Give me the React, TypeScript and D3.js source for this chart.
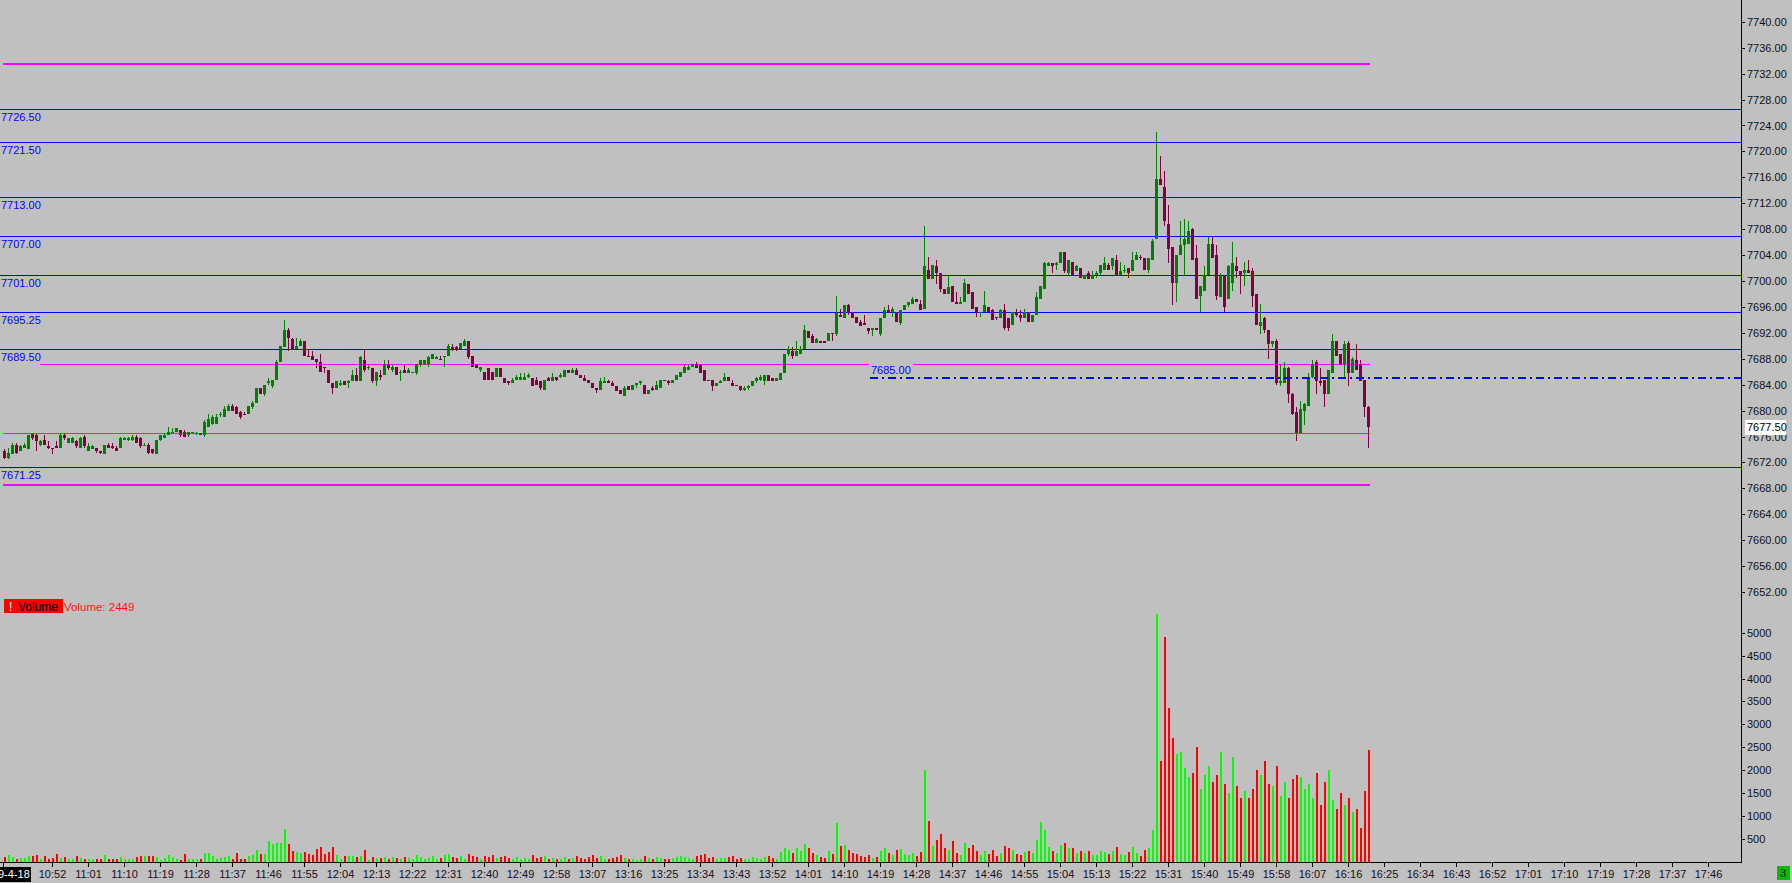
import React from 'react';
import * as d3 from 'd3';

// one-minute bars from 10:40, [open, high, low, close]
const candles: [number, number, number, number][] = [
  [7673.75, 7674, 7672.5, 7672.75], [7672.75, 7674.25, 7672.5, 7673.5], [7673.25, 7675, 7673.25, 7674.75], [7674.75, 7675, 7673.25, 7673.5], [7673.75, 7674.75, 7673.75, 7674.5],
  [7674.25, 7675, 7674.25, 7674.75], [7674, 7676.25, 7674, 7676.25], [7676.5, 7676.5, 7675.5, 7675.75], [7676.25, 7676.5, 7673.75, 7675.25], [7674.75, 7675.5, 7674.5, 7675.25],
  [7675.5, 7676.25, 7674.75, 7674.75], [7674.5, 7675.25, 7674, 7674.25], [7674.25, 7674.25, 7673.25, 7674], [7674.5, 7675.25, 7674.25, 7674.25], [7674.25, 7676.5, 7674.25, 7676.25],
  [7676.25, 7676.5, 7675.5, 7675.75], [7675, 7675.75, 7675, 7675.75], [7675, 7676, 7675, 7675.75], [7675.25, 7675.5, 7674.25, 7674.5], [7674.25, 7676, 7674.25, 7675.75],
  [7676, 7676.25, 7674.25, 7674.5], [7673.75, 7675, 7673.75, 7674.5], [7674, 7674.75, 7674, 7674.5], [7674.25, 7674.25, 7673.5, 7673.75], [7673.75, 7673.75, 7673.25, 7673.5],
  [7673.25, 7674.75, 7673.25, 7674.75], [7674.75, 7675, 7674.25, 7674.25], [7674.5, 7675, 7674, 7674.25], [7674.25, 7674.5, 7673.75, 7673.75], [7674.25, 7676, 7674.25, 7675.75],
  [7675.5, 7676, 7675.5, 7675.75], [7675.5, 7676, 7675.25, 7675.75], [7675.5, 7676.25, 7675.25, 7676], [7676, 7676.25, 7675, 7675], [7675.75, 7676, 7674.25, 7674.5],
  [7674.5, 7675, 7674.5, 7674.75], [7674.75, 7675, 7673.25, 7673.5], [7674, 7674, 7673.25, 7673.5], [7673.25, 7675.5, 7673.25, 7675.5], [7675.5, 7676.25, 7675.25, 7676.25],
  [7675.75, 7676.5, 7675.75, 7676.25], [7676.25, 7677.5, 7676.25, 7676.75], [7676.5, 7677.25, 7676.5, 7676.75], [7676.75, 7677.25, 7676.75, 7677.25], [7677, 7677, 7676, 7676.25],
  [7676.75, 7677, 7676, 7676], [7676.25, 7676.75, 7676, 7676.75], [7676.5, 7676.75, 7676.5, 7676.75], [7676.5, 7676.75, 7676.25, 7676.5], [7676.5, 7676.5, 7676.25, 7676.25],
  [7676.25, 7678.5, 7676, 7678.25], [7677.5, 7679.5, 7677.5, 7678.75], [7678, 7679.25, 7677.75, 7679], [7678, 7679.5, 7678, 7679], [7679.25, 7679.75, 7679, 7679.5],
  [7679, 7680.75, 7679, 7680.25], [7680, 7681, 7680, 7680.75], [7680.75, 7681, 7680, 7680], [7680.5, 7680.75, 7679.5, 7679.5], [7679.75, 7680, 7678.75, 7679],
  [7679.5, 7679.75, 7679.25, 7679.25], [7679.5, 7680.75, 7679.5, 7680.75], [7680.5, 7681.5, 7680.25, 7681.25], [7681.25, 7683.5, 7681.25, 7683.5], [7683.5, 7683.5, 7682.5, 7682.5],
  [7682.5, 7684, 7682.25, 7684], [7684.25, 7685, 7684, 7684.5], [7683.75, 7684.75, 7683.5, 7684.75], [7684.75, 7687.75, 7684.75, 7687.5], [7687.5, 7690, 7687.5, 7690],
  [7689.75, 7694, 7689.75, 7692.5], [7692.5, 7692.75, 7689.25, 7691.25], [7691, 7691.25, 7689.5, 7689.5], [7689.5, 7691.25, 7689.5, 7690], [7690, 7691, 7690, 7690.75],
  [7690.75, 7690.75, 7688.5, 7688.5], [7688.5, 7689.5, 7688.25, 7688.25], [7688.5, 7689.25, 7687.75, 7687.75], [7688, 7688, 7686.5, 7687.5], [7687.5, 7688.75, 7686, 7686],
  [7686.75, 7686.75, 7685.75, 7686.5], [7686.25, 7686.25, 7684.25, 7684.25], [7684.25, 7684.25, 7682.5, 7683.5], [7683.5, 7684.5, 7683.5, 7684.5], [7684, 7684.75, 7683.75, 7684.25],
  [7684.5, 7684.5, 7684, 7684], [7684.25, 7684.75, 7683.5, 7684.5], [7684.5, 7686.25, 7684.5, 7685.5], [7685.5, 7686.5, 7684.5, 7684.5], [7684.5, 7688.5, 7684.5, 7688.25],
  [7687.75, 7689.5, 7686, 7686.25], [7686.5, 7687, 7686.25, 7686.75], [7686.5, 7686.5, 7684.25, 7684.5], [7684.5, 7686, 7683.75, 7686], [7685.5, 7686.25, 7684.75, 7685.25],
  [7685.5, 7687.75, 7685.5, 7687.25], [7687.25, 7687.75, 7686.25, 7686.5], [7686.25, 7687, 7686, 7686.75], [7686.75, 7686.75, 7685.5, 7685.5], [7685.75, 7686.25, 7684.5, 7686],
  [7686.25, 7687, 7685.75, 7685.75], [7685.75, 7686.5, 7685.75, 7686.25], [7685.75, 7686, 7685.75, 7686], [7685.75, 7687.25, 7685.5, 7687.25], [7687, 7687.75, 7686.75, 7687.75],
  [7687.25, 7687.75, 7687, 7687.75], [7687.25, 7688.5, 7686.75, 7688.25], [7688, 7688.75, 7688, 7688.75], [7688, 7688.5, 7688, 7688.25], [7688, 7688.5, 7687.75, 7687.75],
  [7688.25, 7688.5, 7686.75, 7688.5], [7688.5, 7690.25, 7688.5, 7690], [7689.75, 7690.25, 7689.25, 7689.5], [7689.75, 7690, 7689.25, 7689.5], [7689.5, 7690.5, 7689.5, 7690.5],
  [7690, 7691, 7690, 7690.75], [7690.75, 7690.75, 7688, 7688.25], [7688.5, 7688.5, 7686.75, 7686.75], [7687.25, 7687.25, 7686.5, 7686.5], [7686.25, 7686.75, 7686, 7686.75],
  [7686, 7686, 7684.75, 7684.75], [7686.5, 7686.5, 7684.75, 7684.75], [7686, 7686, 7684.75, 7684.75], [7685.25, 7686.5, 7685.25, 7686.5], [7686.5, 7686.5, 7685.25, 7685.25],
  [7685, 7685, 7684.25, 7684.25], [7684.5, 7684.5, 7684, 7684.25], [7684.25, 7685, 7684.25, 7684.75], [7684.75, 7685.5, 7684.75, 7685.25], [7684.75, 7685.75, 7684.75, 7685.25],
  [7684.75, 7685.75, 7684.75, 7685.25], [7685.25, 7685.75, 7685, 7685.5], [7685, 7685, 7683.75, 7683.75], [7684.75, 7685.25, 7684, 7684], [7684.5, 7684.5, 7683.25, 7683.5],
  [7683.25, 7684.75, 7683.25, 7684.75], [7685, 7685.25, 7684.5, 7684.5], [7684.5, 7685.75, 7684.5, 7685.25], [7685.25, 7685.25, 7684.5, 7684.75], [7685.25, 7685.75, 7685, 7685.5],
  [7685.25, 7686.25, 7685.25, 7686.25], [7686.25, 7686.25, 7685.75, 7685.75], [7685.75, 7686.5, 7685.75, 7686.25], [7686.25, 7686.5, 7685.5, 7685.5], [7685.5, 7685.5, 7685, 7685],
  [7685, 7685.5, 7684.5, 7684.5], [7684.75, 7684.75, 7684.25, 7684.25], [7684.25, 7684.25, 7683.5, 7683.5], [7683.5, 7683.5, 7682.75, 7683.25], [7683.25, 7685, 7683.25, 7684.5],
  [7684.25, 7685.25, 7684.25, 7684.5], [7684.5, 7684.75, 7684.25, 7684.25], [7684.25, 7684.5, 7683.75, 7683.75], [7683.75, 7683.75, 7683, 7683], [7683.25, 7683.25, 7682.5, 7682.5],
  [7682.25, 7683.75, 7682.25, 7683.5], [7683.75, 7683.75, 7683.25, 7683.25], [7683.25, 7684, 7683.25, 7684], [7684, 7684.25, 7683.5, 7684.25], [7684.25, 7684.5, 7684, 7684.5],
  [7684, 7684, 7682.5, 7682.5], [7682.5, 7683.25, 7682.5, 7683.25], [7683.5, 7683.75, 7683, 7683.25], [7683.25, 7684.5, 7683.25, 7684], [7683.5, 7684.75, 7683.5, 7684.75],
  [7684.75, 7684.75, 7684.5, 7684.5], [7684.5, 7684.75, 7684, 7684.25], [7684.25, 7684.75, 7684.25, 7684.75], [7684.75, 7685.5, 7684.75, 7685.5], [7685.25, 7686, 7685.25, 7686],
  [7685.75, 7687, 7685.75, 7686.75], [7686.25, 7687, 7686.25, 7686.75], [7686.75, 7687.25, 7686.75, 7687.25], [7687.25, 7687.5, 7686.5, 7686.5], [7687, 7687.25, 7685.75, 7685.75],
  [7686.25, 7686.25, 7684.5, 7684.5], [7684.75, 7684.75, 7684.5, 7684.5], [7684.75, 7684.75, 7683, 7683.75], [7683.75, 7684.25, 7683.75, 7684.25], [7684.25, 7684.75, 7684.25, 7684.5],
  [7684.5, 7685.75, 7684.5, 7685.25], [7685.25, 7685.25, 7684.5, 7684.5], [7684.25, 7684.75, 7683.75, 7683.75], [7684, 7684, 7683.75, 7683.75], [7683.75, 7683.75, 7683, 7683.25],
  [7683.25, 7683.75, 7683, 7683.5], [7683.5, 7684, 7683.25, 7683.75], [7683.75, 7684.5, 7683.75, 7684.5], [7684.5, 7685.25, 7684.25, 7685], [7684.75, 7685.5, 7684.5, 7685.25],
  [7684.5, 7685.5, 7684, 7685.5], [7685.5, 7685.5, 7684.5, 7684.5], [7685, 7685, 7684.5, 7684.5], [7684.5, 7685, 7684.5, 7685], [7684.75, 7685.75, 7684.75, 7685.75],
  [7685.75, 7688.75, 7685.75, 7688.75], [7688.75, 7690, 7688.5, 7689.5], [7689.25, 7689.75, 7688, 7688.5], [7688.5, 7690.75, 7688.5, 7689.25], [7688.75, 7690, 7688.75, 7689.5],
  [7689.5, 7693.25, 7689.5, 7692.5], [7692.25, 7692.25, 7691.25, 7691.25], [7691.5, 7691.75, 7690.5, 7690.5], [7690.5, 7691.25, 7690.5, 7691], [7690.75, 7690.75, 7690.5, 7690.5],
  [7690.75, 7690.75, 7690.5, 7690.5], [7690.75, 7692, 7690.75, 7692], [7692, 7692, 7690.75, 7691.75], [7691.75, 7697.75, 7691.5, 7695], [7694.75, 7695.75, 7694.5, 7694.5],
  [7694.25, 7696.25, 7694.25, 7696.25], [7696.25, 7696.5, 7694.75, 7695], [7695.25, 7695.25, 7694.25, 7694.25], [7694.5, 7694.5, 7693.5, 7693.5], [7693.75, 7694, 7693, 7693],
  [7693.5, 7694.75, 7693.25, 7693.25], [7692.75, 7692.75, 7691.75, 7692.25], [7692.5, 7692.75, 7691.5, 7692.75], [7692.75, 7692.75, 7692.5, 7692.5], [7691.75, 7694.25, 7691.5, 7694.25],
  [7694.25, 7696, 7694.25, 7695.5], [7695.5, 7696.25, 7695, 7695.25], [7695.25, 7696, 7694.5, 7695.75], [7695.25, 7695.25, 7693.75, 7693.75], [7693.5, 7695.5, 7693.25, 7695.5],
  [7695.5, 7696.25, 7695.5, 7696.25], [7696.25, 7696.75, 7696, 7696.75], [7696.5, 7697.5, 7696.5, 7697.25], [7697.25, 7697.25, 7696.75, 7696.75], [7696.5, 7697, 7695.5, 7695.5],
  [7695.75, 7708.5, 7695.75, 7702.25], [7701.75, 7703.75, 7700.25, 7700.25], [7700.25, 7702.5, 7700.25, 7702.5], [7702.25, 7703.25, 7699.5, 7701.25], [7701.25, 7701.25, 7698.25, 7698.75],
  [7698.75, 7698.75, 7698, 7698], [7698, 7700.75, 7698, 7699], [7699.25, 7699.25, 7696.75, 7696.75], [7696.75, 7698.25, 7696.5, 7696.5], [7696.5, 7697.5, 7696.5, 7696.75],
  [7696.75, 7700.25, 7696.75, 7699.75], [7699.5, 7699.5, 7698, 7698], [7698.25, 7698.25, 7695.75, 7695.75], [7696, 7696, 7694.5, 7695], [7695, 7695.25, 7694.5, 7695.25],
  [7695.25, 7698.5, 7695.25, 7696.25], [7696, 7696, 7695.25, 7695.25], [7695.5, 7695.75, 7694, 7694], [7694.5, 7694.5, 7694, 7694.25], [7694.25, 7695.75, 7694.25, 7695.5],
  [7695.5, 7696.5, 7692.5, 7692.75], [7694.25, 7694.25, 7692.25, 7692.75], [7693.25, 7695.25, 7693.25, 7695.25], [7695, 7695.75, 7694.5, 7694.75], [7694.75, 7695.5, 7693.75, 7694.25],
  [7694.25, 7695.75, 7694.25, 7695.25], [7695.25, 7695.25, 7693.75, 7693.75], [7693.75, 7694.75, 7693.75, 7694.75], [7694.75, 7698.25, 7694.75, 7697.5], [7697.25, 7699.25, 7697.25, 7699.25],
  [7698.75, 7703, 7698.75, 7702.75], [7702.25, 7703, 7702.25, 7702.75], [7702.75, 7702.75, 7701.25, 7702.25], [7702.5, 7703, 7701.75, 7702.75], [7702.75, 7704.5, 7702.75, 7704.5],
  [7704.5, 7704.5, 7701.25, 7701.5], [7701.25, 7703.25, 7701, 7703.25], [7703, 7703, 7701, 7701], [7701.5, 7702.5, 7701.5, 7702.25], [7702, 7702, 7700.5, 7700.5],
  [7700.25, 7701, 7700.25, 7701], [7701.25, 7701.5, 7700.25, 7700.25], [7700.25, 7701.5, 7700.25, 7701], [7701, 7701.5, 7700.5, 7701.25], [7701.25, 7702.5, 7701, 7702.5],
  [7701.75, 7703.75, 7701.75, 7702.75], [7702.5, 7702.75, 7701.75, 7701.75], [7702.25, 7703.5, 7701.75, 7703.5], [7703.25, 7704, 7701, 7701], [7701, 7703, 7701, 7701.5],
  [7701.5, 7702.5, 7701.25, 7701.75], [7702, 7702, 7700.5, 7701.25], [7701.5, 7704.5, 7701.5, 7703.25], [7703.25, 7704.5, 7703.25, 7704], [7703.75, 7704, 7703.25, 7703.5],
  [7703.5, 7703.5, 7701.75, 7701.75], [7701.75, 7703.5, 7701.25, 7703.5], [7703.25, 7706.5, 7703.25, 7706.25], [7706.5, 7723, 7706.5, 7715.75], [7715.75, 7719.25, 7714.75, 7714.75],
  [7714.5, 7717, 7708.5, 7709.25], [7708.75, 7711.75, 7702.75, 7705], [7705.25, 7705.25, 7696.25, 7699.75], [7699.75, 7704, 7696.75, 7704], [7704, 7709.25, 7704, 7705.5],
  [7705.5, 7709.5, 7700.75, 7706.5], [7705.75, 7709.25, 7705.75, 7707.75], [7708, 7708.25, 7703.25, 7703.25], [7703.5, 7705.5, 7697.25, 7697.25], [7697.75, 7699.25, 7695.25, 7699.25],
  [7698.5, 7702.25, 7698.5, 7701], [7701, 7706.75, 7701, 7705.75], [7705.75, 7706.75, 7703.5, 7703.5], [7704, 7705.5, 7697, 7697.75], [7697.5, 7701.25, 7697.5, 7700.75],
  [7700.75, 7700.75, 7695.25, 7696], [7697.25, 7702.5, 7697.25, 7702.25], [7699.75, 7706, 7698.5, 7702.75], [7702.25, 7703.75, 7700.5, 7701.5], [7701.5, 7701.5, 7698, 7701],
  [7701.25, 7703, 7699.25, 7701.75], [7701.75, 7703.25, 7701.25, 7701.25], [7701.5, 7702, 7696, 7697.75], [7698, 7698, 7693.25, 7693.25], [7693, 7696.5, 7691.75, 7693.75],
  [7694.25, 7694.5, 7692, 7692.5], [7692.5, 7692.5, 7688, 7690.25], [7690.25, 7690.75, 7689.75, 7690.75], [7690.75, 7691, 7684, 7684.25], [7684.25, 7687, 7683.75, 7684.5],
  [7684.25, 7687.5, 7684.25, 7686.5], [7686.5, 7686.75, 7681.25, 7682.5], [7682.5, 7682.75, 7679.25, 7679.5], [7679.75, 7680.5, 7675.25, 7676.5], [7676.5, 7681.5, 7676.5, 7680.25],
  [7680, 7681.25, 7677.75, 7681], [7680.75, 7685.75, 7680.75, 7685.25], [7685.25, 7687.75, 7685, 7687.25], [7687.5, 7687.75, 7682.5, 7684.5], [7684.5, 7686.5, 7683.75, 7684.25],
  [7684.75, 7684.75, 7680.5, 7682.5], [7682.5, 7686.25, 7682.5, 7686.25], [7685.75, 7691.75, 7685.75, 7690.75], [7690.75, 7690.75, 7688.5, 7688.5], [7688.75, 7688.75, 7687, 7687],
  [7687.25, 7690.75, 7685, 7690.25], [7690.5, 7690.75, 7683.75, 7685.75], [7685.75, 7688.25, 7685.75, 7688], [7687.75, 7690.25, 7686.25, 7686.25], [7687.25, 7687.75, 7684.5, 7684.5],
  [7684.75, 7684.75, 7679, 7680.5], [7680.5, 7680.75, 7674.25, 7677.5],
];

const volumes = [
  110, 145, 110, 75, 90, 90, 125, 125, 145, 75,
  125, 75, 90, 165, 90, 110, 75, 75, 125, 90,
  75, 75, 75, 75, 75, 145, 75, 75, 75, 110,
  60, 75, 75, 110, 125, 125, 125, 125, 110, 50,
  90, 145, 110, 75, 50, 165, 75, 60, 75, 60,
  205, 190, 125, 75, 95, 110, 125, 75, 205, 60,
  75, 125, 145, 255, 165, 180, 450, 385, 415, 420,
  730, 400, 235, 220, 205, 220, 180, 145, 290, 325,
  180, 220, 325, 145, 75, 125, 125, 125, 110, 125,
  270, 50, 110, 90, 90, 110, 75, 110, 90, 75,
  110, 90, 60, 145, 110, 75, 90, 125, 75, 90,
  145, 180, 110, 90, 125, 75, 165, 130, 110, 60,
  125, 110, 145, 90, 110, 125, 90, 60, 110, 75,
  90, 60, 145, 90, 110, 125, 75, 90, 60, 75,
  110, 75, 90, 125, 90, 75, 110, 145, 90, 125,
  75, 60, 90, 110, 145, 90, 60, 75, 50, 60,
  125, 90, 75, 110, 90, 60, 75, 90, 110, 125,
  110, 90, 75, 125, 145, 165, 90, 110, 75, 90,
  90, 110, 125, 75, 90, 60, 75, 110, 90, 75,
  110, 125, 90, 75, 220, 300, 260, 200, 310, 230,
  400, 300, 200, 160, 110, 90, 250, 180, 850, 350,
  380, 260, 200, 180, 140, 110, 160, 90, 110, 250,
  300, 200, 150, 260, 280, 180, 160, 200, 140, 210,
  2000, 900, 350, 480, 620, 300, 260, 450, 200, 160,
  420, 300, 380, 250, 160, 230, 180, 270, 140, 200,
  350, 300, 260, 180, 150, 220, 250, 200, 480, 880,
  700, 320, 230, 200, 380, 420, 300, 310, 200, 240,
  200, 230, 160, 150, 230, 210, 180, 240, 320, 180,
  150, 210, 330, 200, 140, 260, 300, 700, 5400, 2200,
  4900, 3350, 2700, 2350, 2400, 2050, 1850, 1950, 2500, 1600,
  1900, 2100, 1750, 1900, 2400, 1700, 1500, 2300, 1650, 1400,
  1550, 1400, 1600, 2000, 1900, 2200, 1700, 1650, 2100, 1450,
  1750, 1400, 1800, 1900, 1850, 1600, 1700, 1400, 1950, 1250,
  1750, 2000, 1350, 1150, 1500, 1250, 1400, 1100, 1150, 750,
  1550, 2449,
];

const timeLabels = [
  '10:52', '11:01', '11:10', '11:19', '11:28', '11:37', '11:46', '11:55', '12:04', '12:13',
  '12:22', '12:31', '12:40', '12:49', '12:58', '13:07', '13:16', '13:25', '13:34', '13:43',
  '13:52', '14:01', '14:10', '14:19', '14:28', '14:37', '14:46', '14:55', '15:04', '15:13',
  '15:22', '15:31', '15:40', '15:49', '15:58', '16:07', '16:16', '16:25', '16:34', '16:43',
  '16:52', '17:01', '17:10', '17:19', '17:28', '17:37', '17:46',
];

const priceTicks = [
  7740, 7736, 7732, 7728, 7724, 7720, 7716, 7712, 7708, 7704, 7700, 7696,
  7692, 7688, 7684, 7680, 7676, 7672, 7668, 7664, 7660, 7656, 7652,
];
const volumeTicks = [500, 1000, 1500, 2000, 2500, 3000, 3500, 4000, 4500, 5000];

const blueLevels = [7726.5, 7721.5, 7713, 7707, 7701, 7695.25, 7689.5, 7671.25];
const magentaLevels = [7733.5, 7687.25, 7676.5, 7668.5];
const magentaWidths = [2, 1, 1, 2];
const dashLevel = 7685;
const lastPrice = 7677.5;
const lastVolume = 2449;

const W = 1792;
const H = 883;
const AXIS_X = 1741;
const AXIS_Y = 862;
const FONT = '"Liberation Sans", Arial, sans-serif';

const UP = '#008000';
const DOWN = '#800040';

export default function App() {
  const x = d3.scaleLinear().domain([0, 434]).range([4, 1740]);
  const y = d3.scaleLinear().domain([7652, 7740]).range([592.06, 21.82]);
  const yv = d3.scaleLinear().domain([0, 5000]).range([AXIS_Y, 632.7]);

  const minuteOf = (t: string) => {
    const [h, m] = t.split(':').map(Number);
    return h * 60 + m - 640;
  };
  const lastX = Math.round(x(candles.length - 1)) + 2;
  const py = (p: number) => Math.round(y(p)) + 0.5;

  return (
    <svg width={W} height={H} style={{ position: 'absolute', left: 0, top: 0, display: 'block' }}
      fontFamily={FONT}>
      <rect width={W} height={H} fill="#c0c0c0" />

      {/* levels behind the bars */}
      {blueLevels.map(p => (
        <line key={'b' + p} x1={0} x2={AXIS_X} y1={py(p)} y2={py(p)} stroke="#0000ff" strokeWidth={1} />
      ))}
      {magentaLevels.map((p, i) => (
        <line key={'m' + p} x1={i === 1 ? 0 : 3} x2={lastX} y1={magentaWidths[i] === 2 ? Math.round(y(p)) : py(p)}
          y2={magentaWidths[i] === 2 ? Math.round(y(p)) : py(p)} stroke="#ff00ff" strokeWidth={magentaWidths[i]} />
      ))}

      {/* candles */}
      {candles.map(([o, h, l, c], i) => {
        const cx = Math.round(x(i));
        const col = c < o ? DOWN : UP;
        const top = Math.round(y(Math.max(o, c)));
        const bot = Math.round(y(Math.min(o, c)));
        const hy = Math.round(y(Math.max(h, o, c)));
        const ly = Math.round(y(Math.min(l, o, c)));
        return (
          <g key={'c' + i} fill={col}>
            <rect x={cx} y={hy} width={1} height={Math.max(1, ly - hy)} />
            <rect x={cx - 1} y={top} width={3} height={Math.max(1, bot - top)} />
          </g>
        );
      })}

      {/* dash-dot level */}
      <line x1={870} x2={AXIS_X} y1={Math.round(y(dashLevel))} y2={Math.round(y(dashLevel))}
        stroke="#0000ff" strokeWidth={2} strokeDasharray="8,4,2,4" />
      <rect x={869} y={Math.round(y(dashLevel)) - 16} width={44} height={14} fill="#c0c0c0" />
      <text x={871} y={Math.round(y(dashLevel)) - 4} fontSize={11} fill="#0000ff">{dashLevel.toFixed(2)}</text>

      {/* level labels */}
      {blueLevels.map(p => (
        <g key={'bl' + p}>
          <rect x={0} y={py(p) + 0.5} width={40} height={15} fill="#c0c0c0" />
          <text x={1} y={py(p) + 11.5} fontSize={11} fill="#0000ff">{p.toFixed(2)}</text>
        </g>
      ))}

      {/* volume */}
      {volumes.map((v, i) => {
        const [o, , , c] = candles[i];
        const cx = Math.round(x(i));
        const top = Math.round(yv(v));
        return <rect key={'v' + i} x={cx} y={top} width={2} height={AXIS_Y - top}
          fill={c < o ? '#ff0000' : '#00ff00'} />;
      })}

      <rect x={4} y={599} width={59} height={14} fill="#ff0000" />
      <text x={9} y={610.5} fontSize={12} fill="#ffffff">!</text>
      <text x={18} y={610.5} fontSize={12} fill="#000000">Volume</text>
      <text x={64} y={610.5} fontSize={11.5} fill="#ff1010">Volume: {lastVolume}</text>

      {/* axes */}
      <line x1={AXIS_X + 0.5} x2={AXIS_X + 0.5} y1={0} y2={AXIS_Y + 0.5} stroke="#000" />
      <line x1={0} x2={AXIS_X + 1} y1={AXIS_Y + 0.5} y2={AXIS_Y + 0.5} stroke="#000" />

      {priceTicks.map(p => (
        <g key={'pt' + p}>
          <line x1={AXIS_X + 1} x2={AXIS_X + 4} y1={py(p)} y2={py(p)} stroke="#000" />
          <text x={AXIS_X + 6} y={y(p) + 4} fontSize={11} fill="#101010">{p.toFixed(2)}</text>
        </g>
      ))}
      {volumeTicks.map(v => (
        <g key={'vt' + v}>
          <line x1={AXIS_X + 1} x2={AXIS_X + 4} y1={Math.round(yv(v)) + 0.5} y2={Math.round(yv(v)) + 0.5} stroke="#000" />
          <text x={AXIS_X + 6} y={yv(v) + 4} fontSize={11} fill="#101010">{v}</text>
        </g>
      ))}

      <rect x={1745} y={Math.round(y(lastPrice)) - 7} width={41} height={15} fill="#ffffff" />
      <text x={1747} y={y(lastPrice) + 4} fontSize={11} fill="#000">{lastPrice.toFixed(2)}</text>

      {timeLabels.map(t => {
        const tx = Math.round(x(minuteOf(t)));
        return (
          <g key={'t' + t}>
            <line x1={tx + 0.5} x2={tx + 0.5} y1={AXIS_Y} y2={AXIS_Y + 5} stroke="#000" />
            <text x={tx + 0.5} y={878} fontSize={11} fill="#1a0a1a" textAnchor="middle">{t}</text>
          </g>
        );
      })}
      <line x1={3.5} x2={3.5} y1={AXIS_Y} y2={AXIS_Y + 5} stroke="#000" />
      <rect x={0} y={867} width={31} height={15} fill="#000" />
      <text x={-2} y={878} fontSize={11} fill="#ffffff">9-4-18</text>

      <rect x={1777} y={866} width={13} height={14} fill="#00c000" />
      <text x={1780} y={877} fontSize={11} fill="#000">3</text>
    </svg>
  );
}
